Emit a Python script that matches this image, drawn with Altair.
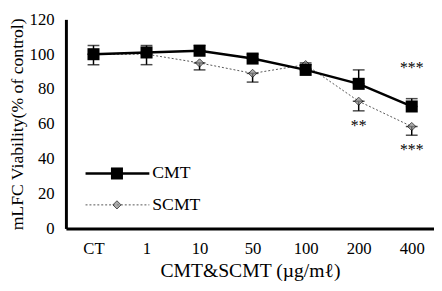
import altair as alt
import pandas as pd

cats = ["CT", "1", "10", "50", "100", "200", "400"]
cmt = [100, 101, 102, 97.5, 91, 83, 70]
cmt_err = [5, 4, 3, 2.5, 4, 8, 4.5]
scmt = [100, 100, 95, 89, 94, 73, 58.5]
scmt_err = [6, 6, 4, 5, 3, 5.5, 5]
star_cats = ["400", "200", "400"]
star_vals = [92, 59, 45]
star_txt = ["***", "**", "***"]

idx = {c: i for i, c in enumerate(cats)}
rows = []
for c, v, e in zip(cats, cmt, cmt_err):
    rows.append({"i": idx[c], "series": "CMT", "v": v, "lo": v, "hi": v + e})
for c, v, e in zip(cats, scmt, scmt_err):
    rows.append({"i": idx[c], "series": "SCMT", "v": v, "lo": v - e, "hi": v})
df = pd.DataFrame(rows)
cdf = df[df.series == "CMT"]
sdf = df[df.series == "SCMT"]
stars = pd.DataFrame({"i": [idx[c] for c in star_cats], "v": star_vals, "t": star_txt})

FONT = "Liberation Serif"
label_expr = "[" + ",".join("'%s'" % c for c in cats) + "][datum.value]"
x = alt.X("i:Q", scale=alt.Scale(domain=[-0.52, 6.42], nice=False, zero=False),
          axis=alt.Axis(title="CMT&SCMT (µg/mℓ)", values=list(range(len(cats))),
                        labelExpr=label_expr, labelAngle=0, ticks=False, tickSize=0, grid=False,
                        labelPadding=13, titlePadding=4, domainWidth=3, titleFontSize=20,
                        labelFlush=False))
yscale = alt.Scale(domain=[0, 120])
yaxis = alt.Axis(title="mLFC  Viability(% of control)", values=[0, 20, 40, 60, 80, 100, 120],
                 grid=False, ticks=False, tickSize=0, domainWidth=3, labelPadding=12,
                 labelOverlap=False, titlePadding=3, titleFontSize=18, labelFlush=False)

def Y(f):
    return alt.Y(f, scale=yscale, axis=yaxis)

def errs(d):
    base = alt.Chart(d)
    r = base.mark_rule(color="black", strokeWidth=1.5).encode(x=x, y=Y("lo:Q"), y2="hi:Q")
    caps_lo = base.mark_tick(color="black", orient="horizontal", size=12, thickness=1.5).encode(x=x, y=Y("lo:Q"))
    caps_hi = base.mark_tick(color="black", orient="horizontal", size=12, thickness=1.5).encode(x=x, y=Y("hi:Q"))
    return r + caps_lo + caps_hi

sline = alt.Chart(sdf).mark_line(color="#555", strokeWidth=1, strokeDash=[2, 2]).encode(x=x, y=Y("v:Q"))
spts = alt.Chart(sdf).mark_point(shape="diamond", size=70, filled=True, color="#888",
                                 stroke="black", strokeWidth=1).encode(x=x, y=Y("v:Q"))
cline = alt.Chart(cdf).mark_line(color="black", strokeWidth=2.5).encode(x=x, y=Y("v:Q"))
cpts = alt.Chart(cdf).mark_point(shape="square", size=150, filled=True, color="black",
                                 opacity=1).encode(x=x, y=Y("v:Q"))
txt = alt.Chart(stars).mark_text(font=FONT, fontSize=16, color="black").encode(
    x=x, y=Y("v:Q"), text="t:N")

leg = pd.DataFrame({"a": [0]})
lb = alt.Chart(leg)
l1 = lb.mark_rule(color="black", strokeWidth=2.5).encode(x=alt.value(20), x2=alt.value(85), y=alt.value(157))
p1 = lb.mark_point(shape="square", size=150, filled=True, color="black", opacity=1).encode(
    x=alt.value(52), y=alt.value(157))
t1 = lb.mark_text(font=FONT, fontSize=18, align="left", text="CMT").encode(x=alt.value(88), y=alt.value(157))
l2 = lb.mark_rule(color="#555", strokeWidth=1, strokeDash=[2, 2]).encode(
    x=alt.value(20), x2=alt.value(85), y=alt.value(189))
p2 = lb.mark_point(shape="diamond", size=70, filled=True, color="#888", stroke="black",
                   strokeWidth=1).encode(x=alt.value(52), y=alt.value(189))
t2 = lb.mark_text(font=FONT, fontSize=18, align="left", text="SCMT").encode(x=alt.value(88), y=alt.value(189))

chart = alt.layer(
    errs(sdf), errs(cdf), sline, spts, cline, cpts, txt, l1, p1, t1, l2, p2, t2
).properties(width=434, height=275, padding=0,
             autosize=alt.AutoSizeParams(type="fit", contains="padding")
).configure_view(stroke=None).configure_axis(
    labelFont=FONT, titleFont=FONT, labelFontSize=17, labelColor="black",
    titleColor="black", domainColor="black", tickColor="black", titleFontWeight="normal"
)

chart.save("out.html", embed_options={"renderer": "svg", "actions": False})
